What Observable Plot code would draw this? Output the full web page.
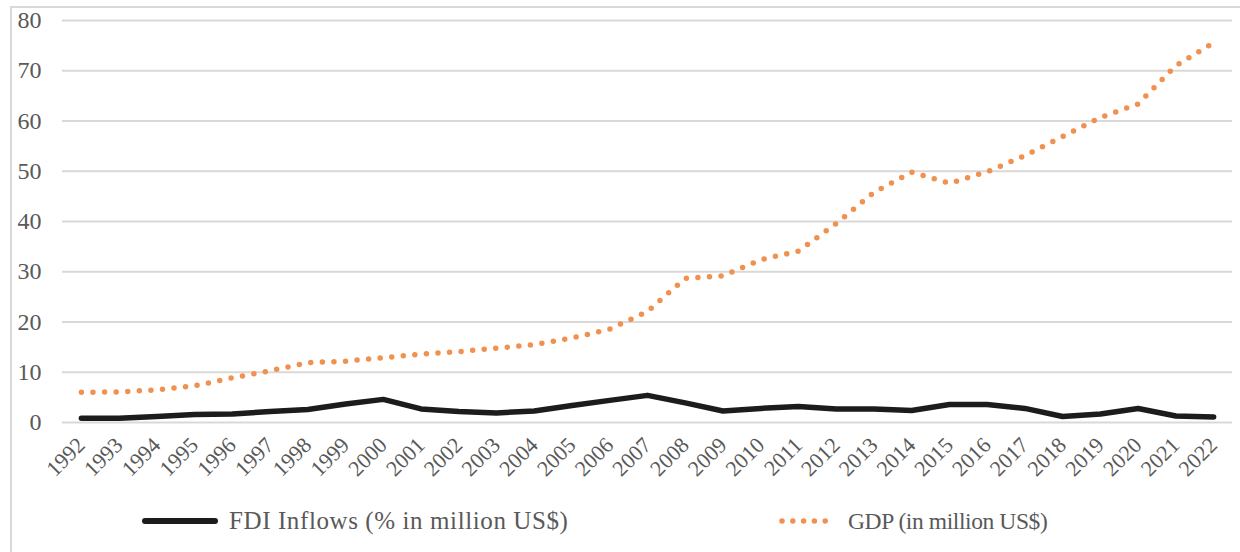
<!DOCTYPE html>
<html>
<head>
<meta charset="utf-8">
<script src="https://cdn.jsdelivr.net/npm/d3@7"></script>
<script src="https://cdn.jsdelivr.net/npm/@observablehq/plot@0.6"></script>
<style>
  html, body { margin: 0; padding: 0; background: #fff; }
  #frame { position: relative; width: 1240px; height: 552px; overflow: hidden; font-family: "Liberation Serif", "Times New Roman", serif; }
  #border { position: absolute; left: 10px; top: 6px; width: 1300px; height: 700px; border: 2px solid #d9d9d9; box-sizing: border-box; }
  #chart { position: absolute; left: 0; top: 0; }
  .leg { position: absolute; top: 505px; height: 32px; display: flex; align-items: center; color: #595959; white-space: nowrap; }
  .leg svg { margin-right: 10px; }
</style>
</head>
<body>
<div id="frame">
  <div id="border"></div>
  <div id="chart"></div>
  <div class="leg" id="leg1" style="left:141px; font-size:25px; letter-spacing:0.6px"></div>
  <div class="leg" id="leg2" style="left:778px; font-size:23.5px; letter-spacing:-0.4px"></div>
</div>
<script>
const years = ["1992","1993","1994","1995","1996","1997","1998","1999","2000","2001","2002","2003","2004","2005","2006","2007","2008","2009","2010","2011","2012","2013","2014","2015","2016","2017","2018","2019","2020","2021","2022"];
const fdi = [0.85,0.85,1.2,1.6,1.7,2.2,2.6,3.7,4.6,2.7,2.2,1.9,2.3,3.4,4.4,5.4,3.9,2.3,2.8,3.2,2.7,2.7,2.4,3.6,3.6,2.8,1.2,1.7,2.8,1.3,1.1];
const gdp = [6.0,6.1,6.5,7.3,8.9,10.3,11.9,12.2,12.9,13.6,14.1,14.8,15.5,16.8,18.6,22.1,28.7,29.2,32.4,34.1,39.6,45.8,49.8,47.6,49.9,53.1,56.9,60.7,63.4,71.0,75.6];
const yTicks = [0,10,20,30,40,50,60,70,80];
const seriesNames = ["FDI Inflows (% in million US$)", "GDP (in million US$)"];

const fdiData = years.map((y, i) => ({year: y, value: fdi[i]}));
const gdpData = years.map((y, i) => ({year: y, value: gdp[i]}));

const orange = "#F0914F";
const black = "#1c1c1c";

const chart = Plot.plot({
  width: 1240,
  height: 480,
  marginLeft: 62,
  marginRight: 8,
  marginTop: 20,
  marginBottom: 58,
  style: {fontFamily: "'Liberation Serif', 'Times New Roman', serif", color: "#595959", background: "transparent", overflow: "visible"},
  x: {type: "point", domain: years, padding: 0.5, round: false},
  y: {domain: [0, 80]},
  marks: [
    Plot.gridY(yTicks, {stroke: "#d9d9d9", strokeOpacity: 1, strokeWidth: 2}),
    Plot.axisY(yTicks, {tickSize: 0, tickPadding: 21, fontSize: 24, label: null, fill: "#595959"}),
    Plot.axisX(years, {tickSize: 0, tickPadding: 19, tickRotate: -45, fontSize: 22, label: null, fill: "#595959"}),
    Plot.lineY(gdpData, {x: "year", y: "value", stroke: orange, strokeWidth: 5.5, strokeDasharray: "0 11.6", strokeLinecap: "round"}),
    Plot.lineY(fdiData, {x: "year", y: "value", stroke: black, strokeWidth: 5.5, strokeLinejoin: "round", strokeLinecap: "round"})
  ]
});
document.getElementById("chart").appendChild(chart);

// legend
const leg1 = document.getElementById("leg1");
leg1.innerHTML = `<svg width="78" height="12"><line x1="4" y1="6" x2="74" y2="6" stroke="${black}" stroke-width="6" stroke-linecap="round"/></svg><span>${seriesNames[0]}</span>`;
const leg2 = document.getElementById("leg2");
leg2.innerHTML = `<svg width="60" height="12"><line x1="4" y1="6" x2="58" y2="6" stroke="${orange}" stroke-width="5.5" stroke-dasharray="0 10.8" stroke-linecap="round"/></svg><span>${seriesNames[1]}</span>`;
</script>
</body>
</html>
